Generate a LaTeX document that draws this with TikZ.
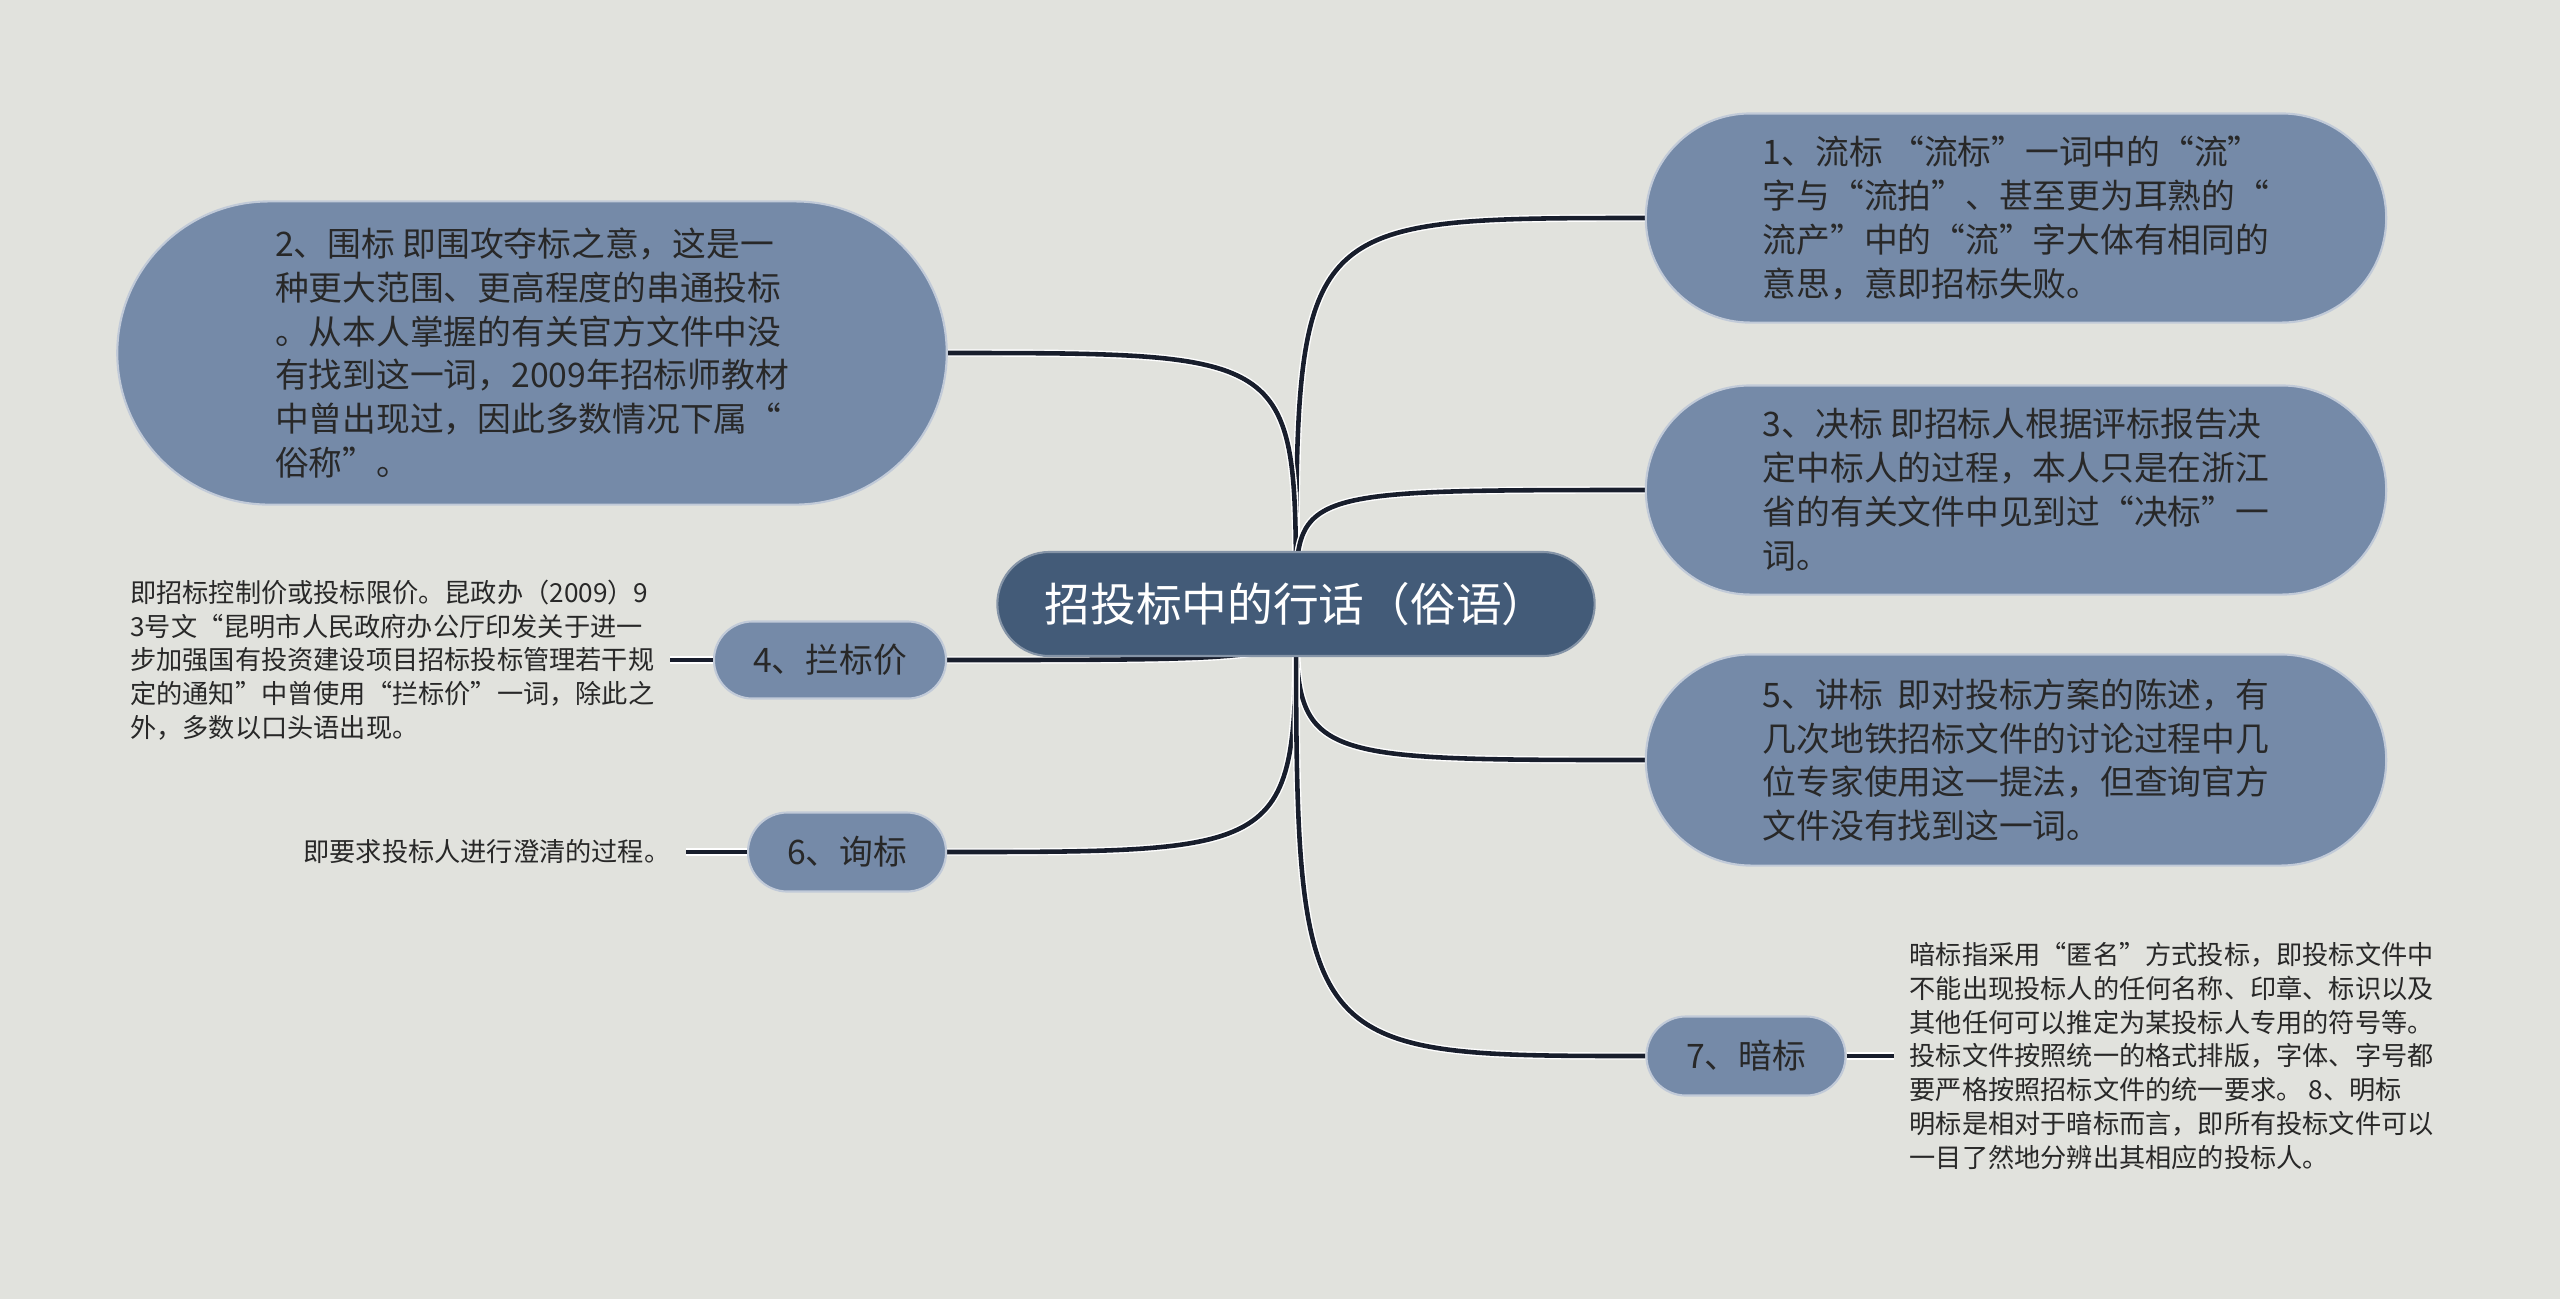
\documentclass[tikz,border=0pt]{standalone}
\usepackage{fontspec}
\newfontfamily\cjk{Noto Sans CJK SC}
\usepackage{tikz}
\usetikzlibrary{shapes.misc, backgrounds}
\usepackage{xcolor}
\definecolor{fundo}{RGB}{225, 226, 221}
\definecolor{azul}{RGB}{117, 138, 168}
\definecolor{azulEscuro}{RGB}{67, 91, 120}
\definecolor{texto}{RGB}{40, 40, 40}
\definecolor{linha}{RGB}{24, 30, 44}
\pgfdeclarelayer{fundoTela}
\pgfsetlayers{fundoTela, background, main}
\tikzset{
  caixa/.style={
    rounded rectangle, fill=azul, draw=white!55!azul, line width=0.6pt,
    font=\cjk\fontsize{9.6}{12.5}\selectfont, text=texto, align=left, inner sep=0pt
  },
  caixaCentro/.style={caixa, fill=azulEscuro, draw=white!35!azulEscuro, text=white,
    font=\cjk\fontsize{13}{15}\selectfont},
  folha/.style={font=\cjk\fontsize{7.45}{9.6}\selectfont, text=texto, align=left, inner sep=0.15cm},
  ligacao/.style={line width=1.3pt, linha, preaction={draw=white, line width=2.1pt}},
}

\begin{document}
\begin{tikzpicture}[x=0.01cm, y=-0.01cm]

\begin{pgfonlayer}{fundoTela}
\fill[fundo] (0,0) rectangle (2560,1299);
\end{pgfonlayer}
\useasboundingbox (0,0) rectangle (2560,1299);

\node[caixaCentro, minimum width=5.97cm, minimum height=1.04cm] (centro) at (1296,604)
{招投标中的行话（俗语）};

\node[caixa, minimum width=7.4cm, minimum height=2.09cm] (t1) at (2016,218)
{
    1、流标 “流标”一词中的“流”\\
    字与“流拍”、甚至更为耳熟的“\\
    流产”中的“流”字大体有相同的\\
    意思，意即招标失败。
};

\node[caixa, minimum width=8.29cm, minimum height=3.03cm] (t2) at (532,353)
{
    2、围标 即围攻夺标之意，这是一\\
    种更大范围、更高程度的串通投标\\
    。从本人掌握的有关官方文件中没\\
    有找到这一词，2009年招标师教材\\
    中曾出现过，因此多数情况下属“\\
    俗称”。
};

\node[caixa, minimum width=7.4cm, minimum height=2.09cm] (t3) at (2016,490)
{
    3、决标 即招标人根据评标报告决\\
    定中标人的过程，本人只是在浙江\\
    省的有关文件中见到过“决标”一\\
    词。
};

\node[caixa, minimum width=2.32cm, minimum height=0.77cm] (t4) at (830,660)
{4、拦标价};

\node[caixa, minimum width=7.4cm, minimum height=2.11cm] (t5) at (2016,760)
{
    5、讲标\ \ 即对投标方案的陈述，有\\
    几次地铁招标文件的讨论过程中几\\
    位专家使用这一提法，但查询官方\\
    文件没有找到这一词。
};

\node[caixa, minimum width=1.98cm, minimum height=0.79cm] (t6) at (847,852)
{6、询标};

\node[caixa, minimum width=1.99cm, minimum height=0.79cm] (t7) at (1746,1056)
{7、暗标};

\node[folha, anchor=east] (f4) at (670,660)
{
    即招标控制价或投标限价。昆政办（2009）9\\
    3号文“昆明市人民政府办公厅印发关于进一\\
    步加强国有投资建设项目招标投标管理若干规\\
    定的通知”中曾使用“拦标价”一词，除此之\\
    外，多数以口头语出现。
};

\node[folha, anchor=east] (f6) at (686,852)
{即要求投标人进行澄清的过程。};

\node[folha, anchor=west] (f7) at (1894,1056)
{
    暗标指采用“匿名”方式投标，即投标文件中\\
    不能出现投标人的任何名称、印章、标识以及\\
    其他任何可以推定为某投标人专用的符号等。\\
    投标文件按照统一的格式排版，字体、字号都\\
    要严格按照招标文件的统一要求。 8、明标\\
    明标是相对于暗标而言，即所有投标文件可以\\
    一目了然地分辨出其相应的投标人。
};

\begin{pgfonlayer}{background}
\draw[ligacao] (centro.center) .. controls (centro.center |- t1.west) .. (t1.west);
\draw[ligacao] (centro.center) .. controls (centro.center |- t2.east) .. (t2.east);
\draw[ligacao] (centro.center) .. controls (centro.center |- t3.west) .. (t3.west);
\draw[ligacao] (centro.center) .. controls (centro.center |- t4.east) .. (t4.east);
\draw[ligacao] (centro.center) .. controls (centro.center |- t5.west) .. (t5.west);
\draw[ligacao] (centro.center) .. controls (centro.center |- t6.east) .. (t6.east);
\draw[ligacao] (centro.center) .. controls (centro.center |- t7.west) .. (t7.west);
\end{pgfonlayer}

\draw[ligacao] (t4.west) -- (f4.east);
\draw[ligacao] (t6.west) -- (f6.east);
\draw[ligacao] (t7.east) -- (f7.west);

\end{tikzpicture}
\end{document}
